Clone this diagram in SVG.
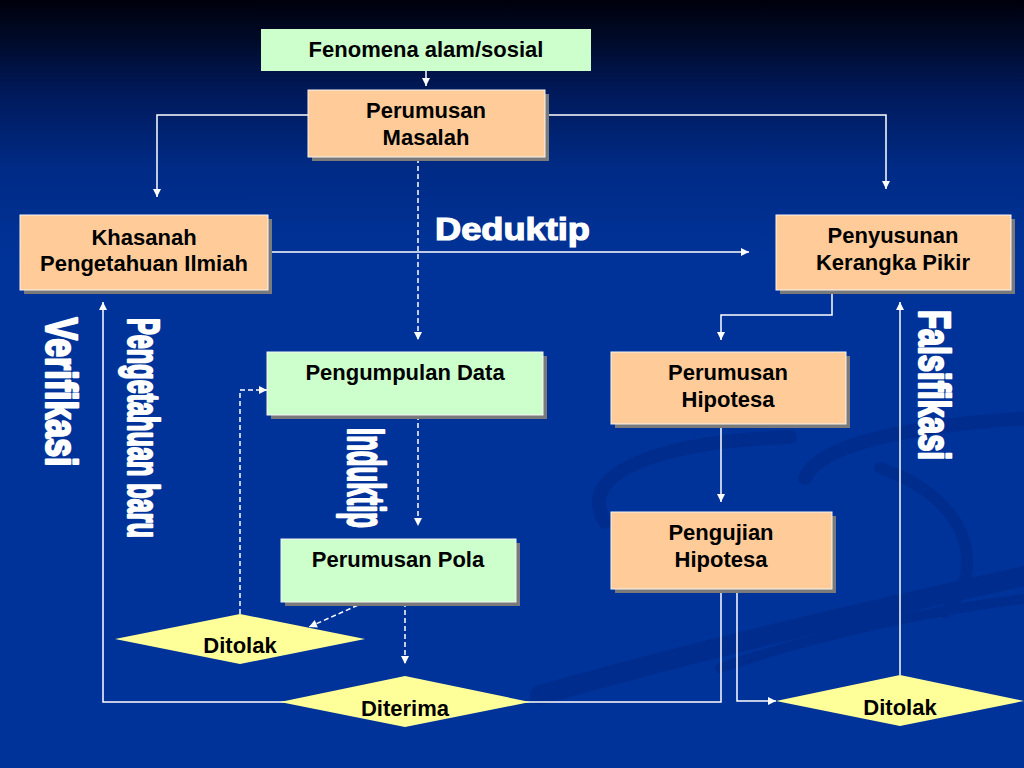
<svg xmlns="http://www.w3.org/2000/svg" width="1024" height="768" viewBox="0 0 1024 768">
<defs>
<linearGradient id="bg" x1="0" y1="0" x2="0" y2="1">
<stop offset="0" stop-color="#00000c"/>
<stop offset="0.05" stop-color="#000a28"/>
<stop offset="0.12" stop-color="#00195a"/>
<stop offset="0.22" stop-color="#002b86"/>
<stop offset="0.34" stop-color="#003399"/>
<stop offset="1" stop-color="#003399"/>
</linearGradient>
<marker id="ah" viewBox="0 0 10 10" refX="10" refY="5" markerWidth="9" markerHeight="8" markerUnits="userSpaceOnUse" orient="auto">
<path d="M0,0 L10,5 L0,10 z" fill="#ffffff"/>
</marker>
<style>
.box{stroke:#f4f4f4;stroke-width:1}
.peach{fill:#ffcc99}
.green{fill:#ccffcc}
.shadow{fill:#7a7a7a}
.dia{fill:#ffff99}
.lbl{font-family:"Liberation Sans",Arial,sans-serif;font-weight:bold;font-size:22px;fill:#000000;text-anchor:middle}
.ln{fill:none;stroke:#ffffff;stroke-width:1.5}
.dash{stroke-dasharray:5,3}
.big{font-family:"Liberation Sans Narrow","Liberation Sans",Arial,sans-serif;font-weight:bold;fill:#ffffff;stroke:#ffffff;stroke-width:2.4;stroke-linejoin:round;text-anchor:middle}
.sw{fill:none;stroke:#002b8a;stroke-linecap:round}
</style>
</defs>
<rect x="0" y="0" width="1024" height="768" fill="url(#bg)"/>
<g id="swoosh" opacity="0.75">
<path class="sw" d="M605,522 C575,472 660,442 790,437" stroke-width="14"/>
<path class="sw" d="M805,478 C820,442 920,425 1030,418" stroke-width="14"/>
<path class="sw" d="M880,468 C975,500 985,575 945,612" stroke-width="12"/>
<path class="sw" d="M540,695 C700,650 860,612 1030,575" stroke-width="20"/>
<path class="sw" d="M720,668 C840,628 950,608 1030,598" stroke-width="10"/>
</g>
<g id="connectors">
<path class="ln" d="M426,71 V86" marker-end="url(#ah)"/>
<path class="ln" d="M308,115 H157 V197" marker-end="url(#ah)"/>
<path class="ln" d="M545,115 H886 V189" marker-end="url(#ah)"/>
<path class="ln dash" d="M418,158 V340" marker-end="url(#ah)"/>
<path class="ln" d="M268,252 H749" marker-end="url(#ah)"/>
<path class="ln" d="M832,290 V315 H721 V340" marker-end="url(#ah)"/>
<path class="ln" d="M721,424 V502" marker-end="url(#ah)"/>
<path class="ln dash" d="M418,415 V526" marker-end="url(#ah)"/>
<path class="ln dash" d="M365,602 L309,627" marker-end="url(#ah)"/>
<path class="ln dash" d="M405,602 V664" marker-end="url(#ah)"/>
<path class="ln dash" d="M240,614 V390 H267" marker-end="url(#ah)"/>
<path class="ln" d="M721,589 V702 H103 V302" marker-end="url(#ah)"/>
<path class="ln" stroke="#cfe0ff" d="M737,589 V701 H776" marker-end="url(#ah)"/>
<path class="ln" d="M900,675 V302" marker-end="url(#ah)"/>
</g>
<g id="fenomena">
<rect class="green" x="261" y="29" width="330" height="42"/>
<text class="lbl" x="426" y="57">Fenomena alam/sosial</text>
</g>
<g id="perumusan-masalah">
<rect class="shadow" x="312" y="94" width="237" height="67"/>
<rect class="peach box" x="308" y="90" width="237" height="67"/>
<text class="lbl" x="426" y="118">Perumusan</text>
<text class="lbl" x="426" y="145">Masalah</text>
</g>
<g id="khasanah">
<rect class="shadow" x="24" y="219" width="248" height="75"/>
<rect class="peach box" x="20" y="215" width="248" height="75"/>
<text class="lbl" x="144" y="245">Khasanah</text>
<text class="lbl" x="144" y="271">Pengetahuan Ilmiah</text>
</g>
<g id="penyusunan">
<rect class="shadow" x="780" y="219" width="235" height="75"/>
<rect class="peach box" x="776" y="215" width="235" height="75"/>
<text class="lbl" x="893" y="243">Penyusunan</text>
<text class="lbl" x="893" y="270">Kerangka Pikir</text>
</g>
<g id="pengumpulan-data">
<rect class="shadow" x="271" y="356" width="276" height="63"/>
<rect class="green box" x="267" y="352" width="276" height="63"/>
<text class="lbl" x="405" y="380">Pengumpulan Data</text>
</g>
<g id="perumusan-hipotesa">
<rect class="shadow" x="615" y="356" width="235" height="72"/>
<rect class="peach box" x="611" y="352" width="235" height="72"/>
<text class="lbl" x="728" y="380">Perumusan</text>
<text class="lbl" x="728" y="407">Hipotesa</text>
</g>
<g id="perumusan-pola">
<rect class="shadow" x="285" y="543" width="235" height="63"/>
<rect class="green box" x="281" y="539" width="235" height="63"/>
<text class="lbl" x="398" y="567">Perumusan Pola</text>
</g>
<g id="pengujian-hipotesa">
<rect class="shadow" x="615" y="516" width="221" height="77"/>
<rect class="peach box" x="611" y="512" width="221" height="77"/>
<text class="lbl" x="721" y="540">Pengujian</text>
<text class="lbl" x="721" y="567">Hipotesa</text>
</g>
<g id="ditolak-kiri">
<polygon class="dia" points="115,639 240,614 365,639 240,664"/>
<text class="lbl" x="240" y="653">Ditolak</text>
</g>
<g id="diterima">
<polygon class="dia" points="280,702 405,676 530,702 405,727"/>
<text class="lbl" x="405" y="716">Diterima</text>
</g>
<g id="ditolak-kanan">
<polygon class="dia" points="776,701 900,675 1024,701 900,726"/>
<text class="lbl" x="900" y="715">Ditolak</text>
</g>
<g id="labels">
<text x="435" y="240" font-family="Liberation Sans, Arial, sans-serif" font-weight="bold" font-size="32" fill="#ffffff" stroke="#ffffff" stroke-width="1.2" textLength="155" lengthAdjust="spacingAndGlyphs">Deduktip</text>
<text class="big" font-size="44" textLength="149" lengthAdjust="spacingAndGlyphs" transform="translate(46,392) rotate(90)">Verifikasi</text>
<text class="big" font-size="44" textLength="220" lengthAdjust="spacingAndGlyphs" transform="translate(128,428) rotate(90)">Pengetahuan baru</text>
<text class="big" font-size="51" textLength="100" lengthAdjust="spacingAndGlyphs" transform="translate(348,478) rotate(90)">Induktip</text>
<text class="big" font-size="44" textLength="150" lengthAdjust="spacingAndGlyphs" transform="translate(919,385) rotate(90)">Falsifikasi</text>
</g>
</svg>
